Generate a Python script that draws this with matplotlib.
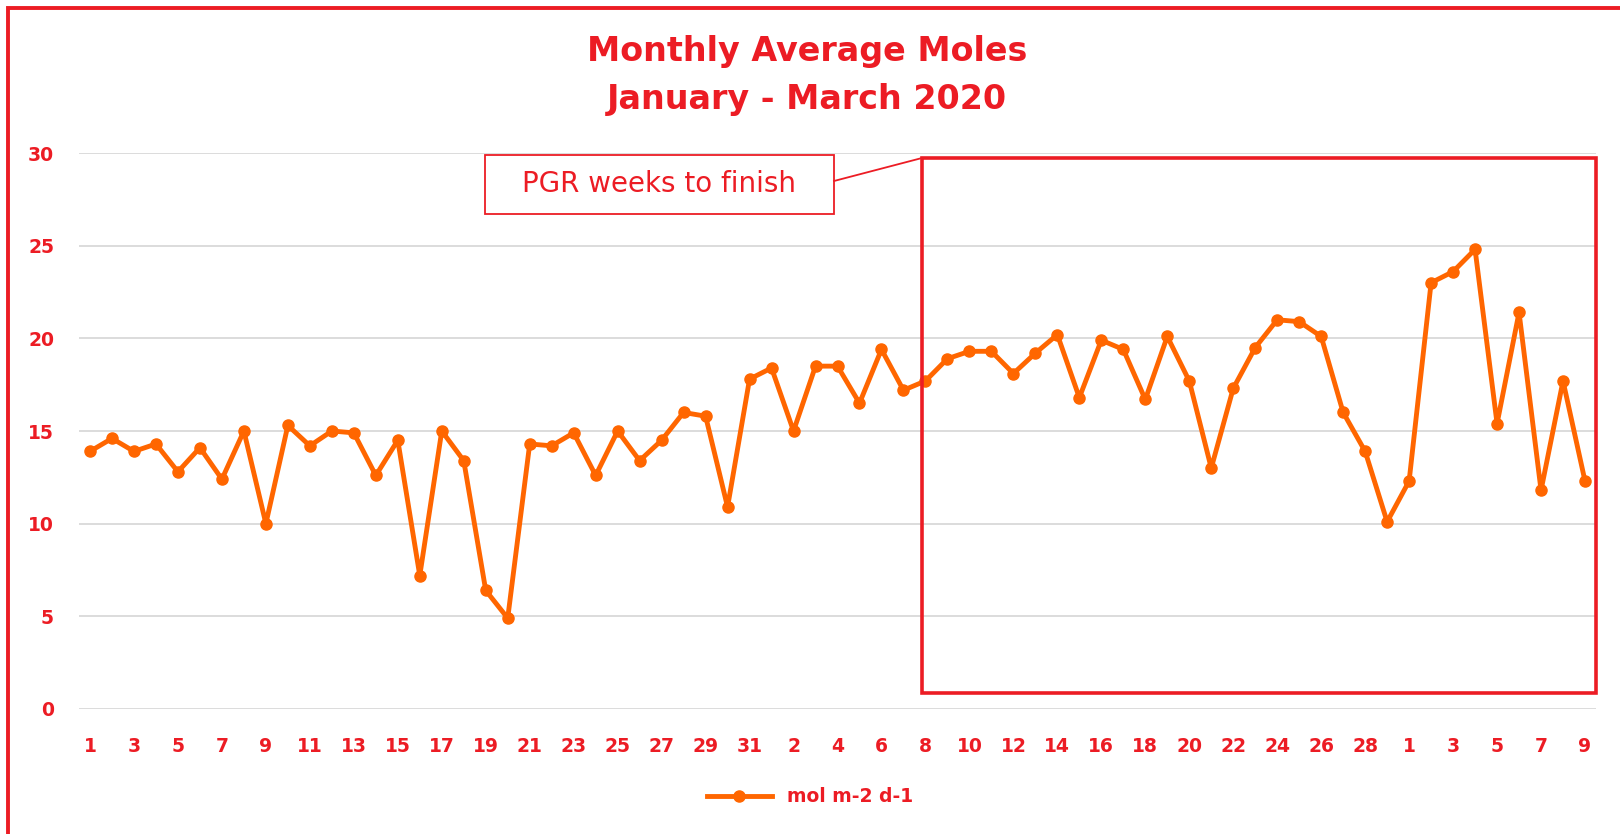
import matplotlib.pyplot as plt
from matplotlib.patches import Rectangle
from matplotlib.lines import Line2D

# data: daily average moles, Jan 1 - Mar 9 2020
jan_days = list(range(1, 32))
feb_days = list(range(1, 30))
mar_days = list(range(1, 10))

jan_vals = [13.9, 14.6, 13.9, 14.3, 12.8, 14.1, 12.4, 15.0, 10.0, 15.3,
            14.2, 15.0, 14.9, 12.6, 14.5, 7.2, 15.0, 13.4, 6.4, 4.9,
            14.3, 14.2, 14.9, 12.6, 15.0, 13.4, 14.5, 16.0, 15.8, 10.9,
            17.8]
feb_vals = [18.4, 15.0, 18.5, 18.5, 16.5, 19.4, 17.2, 17.7, 18.9, 19.3,
            19.3, 18.1, 19.2, 20.2, 16.8, 19.9, 19.4, 16.7, 20.1, 17.7,
            13.0, 17.3, 19.5, 21.0, 20.9, 20.1, 16.0, 13.9, 10.1]
mar_vals = [12.3, 23.0, 23.6, 24.8, 15.4, 21.4, 11.8, 17.7, 12.3]

days = jan_days + feb_days + mar_days
vals = jan_vals + feb_vals + mar_vals
x = list(range(len(days)))

red = '#EC1C24'
orange = '#FF6600'
W, H = 1620, 834

plt.rcParams['font.family'] = ['DejaVu Sans']

fig = plt.figure(figsize=(W / 100, H / 100), dpi=100)
ax = fig.add_axes([79 / W, 1 - 709 / H, (1596 - 79) / W, (709 - 153) / H])

ax.plot(x, vals, color=orange, lw=3.5, marker='o', markersize=8,
        label='mol m-2 d-1', zorder=3)

ax.set_xlim(-0.5, len(days) - 0.5)
ax.set_ylim(0, 30)
ax.set_yticks([0, 5, 10, 15, 20, 25, 30])
ax.set_xticks(x[::2])
ax.set_xticklabels([str(d) for d in days[::2]])
ax.grid(axis='y', color='#D9D9D9', lw=1.3)
ax.set_axisbelow(True)
for s in ax.spines.values():
    s.set_visible(False)
ax.tick_params(length=0, labelcolor=red, labelsize=13.5)
ax.tick_params(axis='x', pad=20)
ax.tick_params(axis='y', pad=18)
for t in ax.get_xticklabels() + ax.get_yticklabels():
    t.set_fontweight('bold')

fig.text(807 / W, 1 - 52 / H, 'Monthly Average Moles', ha='center', va='center',
         color=red, fontsize=24, fontweight='bold')
fig.text(807 / W, 1 - 100 / H, 'January - March 2020', ha='center', va='center',
         color=red, fontsize=24, fontweight='bold')

# highlighted region box
ax.add_patch(Rectangle((0.5557, 0.029), 0.4446, 0.962, transform=ax.transAxes,
                       fill=False, ec=red, lw=2.6, zorder=4, clip_on=False))

# callout
fig.patches.append(Rectangle((485 / W, 1 - 214 / H), 349 / W, 59 / H,
                             transform=fig.transFigure, fill=False, ec=red, lw=1.3))
fig.text(659 / W, 1 - 184 / H, 'PGR weeks to finish', ha='center', va='center',
         color=red, fontsize=20)
fig.lines.append(Line2D([834 / W, 922 / W], [1 - 181 / H, 1 - 158 / H],
                        transform=fig.transFigure, color=red, lw=1.3))

# outer frame
fig.patches.append(Rectangle((8 / W, -0.1), 1.2, 1.1 - 8 / H,
                             transform=fig.transFigure, fill=False, ec=red, lw=2.8))

leg = fig.legend(loc='center', bbox_to_anchor=(0.5, 1 - 797 / H), frameon=False,
                 handlelength=3.5, fontsize=13.5)
for t in leg.get_texts():
    t.set_color(red)
    t.set_fontweight('bold')

fig.savefig('out.png', dpi=100)
